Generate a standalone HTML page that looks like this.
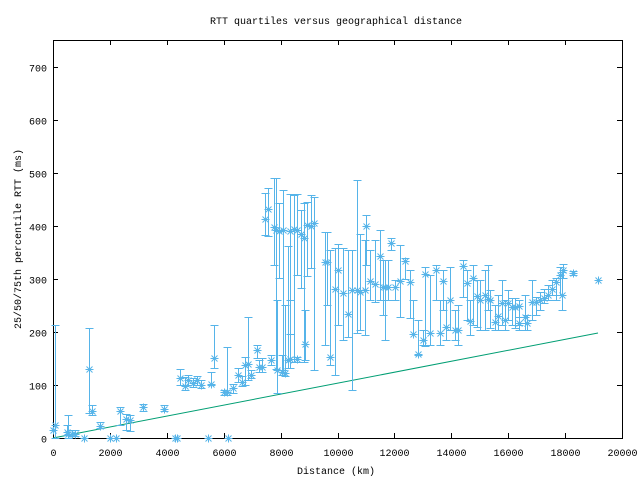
<!DOCTYPE html>
<html><head><meta charset="utf-8"><style>
html,body{margin:0;padding:0;background:#fff;}
svg{display:block;}
text{font-family:"Liberation Mono",monospace;font-size:10px;fill:#000;}
</style></head><body>
<svg id="s" width="640" height="480" xmlns="http://www.w3.org/2000/svg">
<rect x="0" y="0" width="640" height="480" fill="#fff"/>
<text x="336" y="24" text-anchor="middle">RTT quartiles versus geographical distance</text>
<text x="336" y="474" text-anchor="middle">Distance (km)</text>
<text transform="translate(21,239) rotate(-90)" text-anchor="middle">25/50/75th percentile RTT (ms)</text>
<g id="ax" stroke="#000" stroke-width="1" fill="none"></g>
<g id="lab"></g>
<polyline points="53,438 598,333" stroke="#009e73" stroke-width="1" fill="none"/>
<g id="d" stroke="#56b4e9" stroke-width="1" fill="none"></g>
</svg>
<script>
var NS="http://www.w3.org/2000/svg";
function el(p,t,a){var e=document.createElementNS(NS,t);for(var k in a)e.setAttribute(k,a[k]);p.appendChild(e);return e;}
var ax=document.getElementById('ax'),lab=document.getElementById('lab'),d=document.getElementById('d');
el(ax,'rect',{x:53.5,y:40.5,width:569,height:398});
for(var i=0;i<=7;i++){var y=438-i*53+0.5;el(ax,'line',{x1:53,y1:y,x2:58,y2:y});el(ax,'line',{x1:617,y1:y,x2:622,y2:y});
var t=el(lab,'text',{x:47,y:y+4,'text-anchor':'end'});t.textContent=i*100;}
for(var i=0;i<=10;i++){var x=Math.round(53+i*56.9)+0.5;el(ax,'line',{x1:x,y1:438,x2:x,y2:433});el(ax,'line',{x1:x,y1:40,x2:x,y2:45});
var t=el(lab,'text',{x:x,y:456,'text-anchor':'middle'});t.textContent=i*2000;}
var P=[
[53,430,430,430],[55,425,325,438],[67,432,425,435],[68,434,415,438],[72,434,430,436],[75,434,430,436],[84,438,438,438],
[89,369,328,413],[92,411,405,415],[100,426,422,428],[110,438,438,438],[116,438,438,438],[120,411,407,425],[126,419,414,430],[130,420,415,431],
[143,407,404,411],[164,409,405,411],[175,438,438,438],[177,438,438,438],[208,438,438,438],[228,438,438,438],
[180,378,369,385],[185,386,377,390],[188,380,375,385],[193,383,378,387],[197,380,376,385],[201,385,380,388],
[211,384,372,385],[214,358,325,368],[224,392,390,395],[227,392,347,395],[233,388,384,393],[238,375,368,382],[242,382,376,386],
[245,365,357,385],[248,364,317,380],[251,375,370,378],[257,350,345,358],[259,367,360,372],[262,367,358,372],[271,360,355,365],
[277,370,300,393],[282,372,355,375],[285,373,305,376],[290,359,300,368],[297,359,357,362],[305,344,310,360],
[265,219,193,235],[268,209,188,236],[274,227,178,265],[276,230,178,369],[279,231,203,278],[283,230,190,370],[288,360,246,368],
[290,231,194,334],[294,229,195,362],[297,230,194,275],[301,234,210,288],[304,238,203,362],[307,225,202,276],[311,226,195,268],
[314,223,197,370],[325,262,232,345],[327,262,232,305],[330,357,250,365],[335,289,248,375],[338,270,244,325],[343,293,248,340],
[348,314,250,337],[352,290,250,390],[357,290,180,333],[360,292,234,330],[365,290,240,335],[366,226,215,265],[370,281,250,300],
[375,284,240,302],[380,256,230,300],[383,287,260,315],[385,287,260,340],[388,287,260,300],[391,243,238,250],[395,287,280,300],
[400,281,245,317],[405,261,258,279],[410,282,270,318],[413,334,300,334],[418,354,320,355],[423,340,330,345],[425,274,267,346],
[430,333,275,345],[436,270,265,300],[440,333,300,345],[443,281,270,310],[446,327,300,340],[450,300,267,330],[455,330,310,340],
[458,330,305,345],[463,266,260,297],[467,283,270,320],[470,321,300,335],[473,278,265,325],[477,296,280,327],[480,300,280,330],
[485,295,270,330],[488,299,265,310],[490,300,290,328],[495,322,305,330],[498,316,295,330],[502,303,280,325],[505,320,300,330],
[508,303,290,320],[512,307,298,325],[515,307,298,328],[519,306,300,325],[519,323,317,330],[525,317,295,330],[527,323,315,330],
[532,302,280,320],[536,302,297,315],[540,300,292,310],[544,298,289,303],[548,295,285,300],[552,289,280,295],[556,282,278,300],
[560,275,267,295],[562,295,272,310],[563,270,264,278],[573,273,271,275],[598,280,279,280]
];
P.forEach(function(p){var x=p[0]+0.5,y=p[1]+0.5,a=p[2]+0.5,b=p[3]+0.5;
if(b-a>1){el(d,'line',{x1:x,y1:a,x2:x,y2:b});el(d,'line',{x1:x-4,y1:a,x2:x+4,y2:a});el(d,'line',{x1:x-4,y1:b,x2:x+4,y2:b});}
el(d,'line',{x1:x-4,y1:y,x2:x+4,y2:y});el(d,'line',{x1:x,y1:y-4,x2:x,y2:y+4});
el(d,'line',{x1:x-3,y1:y-3,x2:x+3,y2:y+3});el(d,'line',{x1:x-3,y1:y+3,x2:x+3,y2:y-3});});
</script>
</body></html>
